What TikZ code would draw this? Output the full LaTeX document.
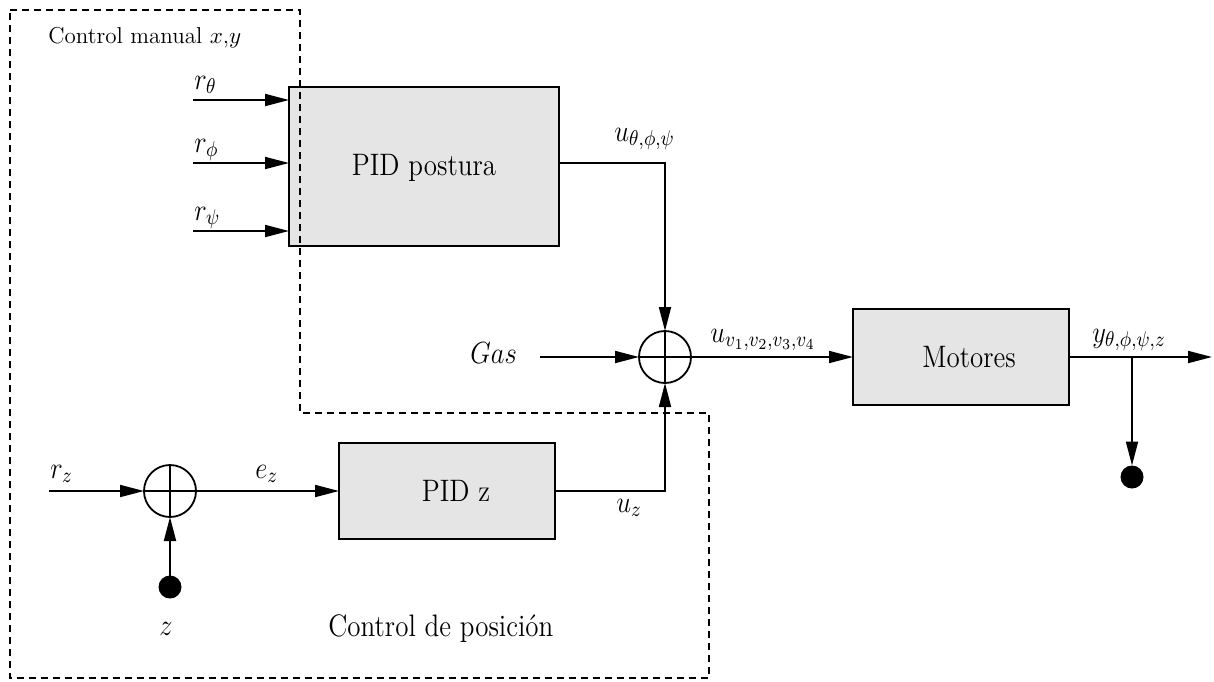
\documentclass[tikz,border=0pt]{standalone}
\usepackage{fix-cm}
\usepackage{graphicx}
\usetikzlibrary{arrows.meta,calc}
\newcommand\tallbox[1]{\scalebox{1}[1.15]{#1}}
\tikzset{
  ln/.style={line width=0.9pt},
  arr/.style={ln,-{Triangle[length=12pt,width=6pt]}},
  blk/.style={draw,line width=0.9pt,fill={rgb,255:red,229;green,229;blue,229},inner sep=0pt,outer sep=0pt},
  sumc/.style={draw,circle,line width=0.9pt,minimum size=26pt,inner sep=0pt,outer sep=0pt},
  dotc/.style={fill,circle,minimum size=11.5pt,inner sep=0pt,outer sep=0pt},
  maintxt/.style={inner sep=0pt,font=\fontsize{13.5}{16}\selectfont},
  smalltxt/.style={inner sep=0pt,font=\fontsize{11.5}{14}\selectfont},
  mathtxt/.style={inner sep=0pt,font=\fontsize{13.3}{16}\selectfont},
  dashln/.style={line width=0.7pt,dash pattern=on 3.5pt off 2.5pt}
}
\begin{document}
\begin{tikzpicture}[x=0.5pt,y=-0.5pt]
\useasboundingbox (0,0) rectangle (1214,681);
% blocks
\node[blk,minimum width=135pt,minimum height=79.5pt] (pidp) at (424,166.5) {};
\node[blk,minimum width=108pt,minimum height=48pt] (mot) at (961,357) {};
\node[blk,minimum width=108pt,minimum height=48pt] (pidz) at (447,491) {};
\node[maintxt] (tpidp) at (424,168) {\tallbox{PID postura}};
\node[maintxt] (tmot) at (969,357) {\tallbox{Motores}};
\node[maintxt] (tpidz) at (456,491) {\tallbox{PID z}};
% summing junctions
\node[sumc] (s1) at (665,357) {};
\draw[ln] (s1.north) -- (s1.south) (s1.west) -- (s1.east);
\node[sumc] (s2) at (170,491) {};
\draw[ln] (s2.north) -- (s2.south) (s2.west) -- (s2.east);
% dots
\node[dotc] (d1) at (1132,477) {};
\node[dotc] (d2) at (170,587) {};
% coordinates
\coordinate (rt) at (193,100);
\coordinate (rf) at (193,163);
\coordinate (rp) at (193,231);
\coordinate (po) at (559,163);
\coordinate (gin) at (540,357);
\coordinate (yout) at (1212,357);
\coordinate (br) at (1132,357);
\coordinate (rzin) at (49,491);
% connectors
\draw[arr] (rt) -- (rt -| pidp.west);
\draw[arr] (rf) -- (rf -| pidp.west);
\draw[arr] (rp) -- (rp -| pidp.west);
\draw[arr] (po) -| (s1.north);
\draw[arr] (gin) -- (s1.west);
\draw[arr] (s1.east) -- (mot.west);
\draw[arr] (mot.east) -- (yout);
\draw[arr] (br) -- (d1.north);
\draw[arr] (rzin) -- (s2.west);
\draw[arr] (s2.east) -- (pidz.west);
\draw[arr] (pidz.east) -| (s1.south);
\draw[arr] (d2.north) -- (s2.south);
% labels
\node[mathtxt,anchor=base west] (lrt) at (194,89) {\tallbox{$r_\theta$}};
\node[mathtxt,anchor=base west] (lrf) at (194,152) {\tallbox{$r_\phi$}};
\node[mathtxt,anchor=base west] (lrp) at (194,220) {\tallbox{$r_\psi$}};
\node[mathtxt,anchor=base west] (lu) at (614,141) {\tallbox{$u_{\theta,\phi,\psi}$}};
\node[mathtxt,anchor=base west] (lgas) at (470,363) {\tallbox{$Gas$}};
\node[mathtxt,anchor=base west] (luv) at (710,342) {\tallbox{$u_{v_1,v_2,v_3,v_4}$}};
\node[mathtxt,anchor=base west] (ly) at (1092,342) {\tallbox{$y_{\theta,\phi,\psi,z}$}};
\node[mathtxt,anchor=base west] (lrz) at (50,478) {\tallbox{$r_z$}};
\node[mathtxt,anchor=base west] (lez) at (255,478) {\tallbox{$e_z$}};
\node[mathtxt,anchor=base west] (luz) at (616,512) {\tallbox{$u_z$}};
\node[mathtxt,anchor=base] (lz) at (166,635) {\tallbox{$z$}};
\node[maintxt,anchor=base west] (tcp) at (328,636) {\tallbox{Control de posición}};
\node[smalltxt,anchor=base west] (tcm) at (48,43) {Control manual $x$,$y$};
% dashed region
\draw[dashln] (10,10) -- (300,10) -- (300,413) -- (709,413) -- (709,678) -- (10,678) -- cycle;
\end{tikzpicture}
\end{document}
